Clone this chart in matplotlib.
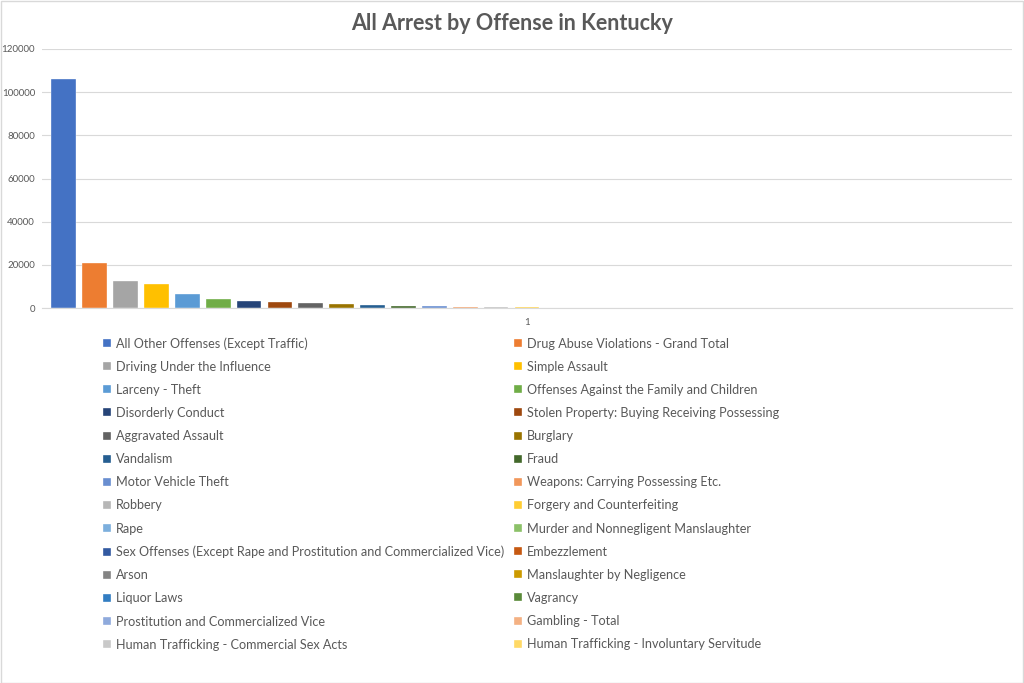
import matplotlib.pyplot as plt
from matplotlib.patches import Rectangle
import numpy as np

plt.rcParams['font.family'] = ['Lato', 'DejaVu Sans']

# offense names in chart order (last three are hidden in the legend, like the reference)
offenses = [
    "All Other Offenses (Except Traffic)",
    "Drug Abuse Violations - Grand Total",
    "Driving Under the Influence",
    "Simple Assault",
    "Larceny - Theft",
    "Offenses Against the Family and Children",
    "Disorderly Conduct",
    "Stolen Property: Buying Receiving Possessing",
    "Aggravated Assault",
    "Burglary",
    "Vandalism",
    "Fraud",
    "Motor Vehicle Theft",
    "Weapons: Carrying Possessing Etc.",
    "Robbery",
    "Forgery and Counterfeiting",
    "Rape",
    "Murder and Nonnegligent Manslaughter",
    "Sex Offenses (Except Rape and Prostitution and Commercialized Vice)",
    "Embezzlement",
    "Arson",
    "Manslaughter by Negligence",
    "Liquor Laws",
    "Vagrancy",
    "Prostitution and Commercialized Vice",
    "Gambling - Total",
    "Human Trafficking - Commercial Sex Acts",
    "Human Trafficking - Involuntary Servitude",
    "Curfew and Loitering Law Violations",
    "Runaways",
    "Suspicion",
]
arrests = [106000, 20800, 12300, 11300, 6500, 4000, 3300, 2700, 2300, 1900,
           1400, 1000, 750, 650, 550, 500, 90, 70, 60, 45,
           35, 20, 15, 10, 8, 5, 2, 1, 0, 0, 0]
n_legend = 28

colors = ["#4472C4", "#ED7D31", "#A5A5A5", "#FFC000", "#5B9BD5", "#70AD47",
          "#264478", "#9E480E", "#636363", "#997300", "#255E91", "#43682B",
          "#698ED0", "#F1975A", "#B7B7B7", "#FFCD33", "#7CAFDD", "#8CC168",
          "#335AA1", "#C65911", "#848484", "#CC9A00", "#327DC2", "#5A8A39",
          "#8FAADC", "#F4B183", "#C9C9C9", "#FFD966", "#9DC3E6", "#A9D18E",
          "#203864"]

fig = plt.figure(figsize=(10.24, 6.83), dpi=100)
ax = fig.add_axes([42 / 1024, 1 - 308 / 683, 970 / 1024, 259 / 683])

n = len(arrests)
slot = 0.987 / n
handles = []
for i, (name, val) in enumerate(zip(offenses, arrests)):
    x = (i - (n - 1) / 2) * slot
    b = ax.bar(x, val, width=slot * 0.8, color=colors[i], edgecolor='white',
               linewidth=0.25, label=name, zorder=3)
    handles.append(b)

ax.set_xlim(-0.5, 0.5)
ax.set_ylim(0, 120000)
ax.set_yticks(np.arange(0, 120001, 20000))
ax.set_xticks([0])
ax.set_xticklabels(["1"])
ax.tick_params(axis='both', length=0, labelsize=7, labelcolor='#595959')
ax.tick_params(axis='y', pad=5)
ax.tick_params(axis='x', pad=7)
ax.grid(axis='y', color='#D9D9D9', linewidth=0.8, zorder=0)
for s in ['top', 'right', 'left']:
    ax.spines[s].set_visible(False)
ax.spines['bottom'].set_color('#D9D9D9')
ax.spines['bottom'].set_zorder(4)

fig.text(0.5, 1 - 23 / 683, "All Arrest by Offense in Kentucky", ha='center',
         va='center', fontsize=15.5, fontweight='bold', color='#595959')

# Excel fills legend rows left-to-right; matplotlib fills columns first
leg_handles = handles[:n_legend]
order = list(range(0, n_legend, 2)) + list(range(1, n_legend, 2))
leg = fig.legend([leg_handles[k] for k in order],
                 [offenses[k] for k in order],
                 loc='upper left', bbox_to_anchor=(103 / 1024, 1 - 337 / 683),
                 ncol=2, frameon=False, fontsize=9.1, handlelength=0.6,
                 handleheight=0.6, handletextpad=0.4, columnspacing=0.8,
                 labelspacing=0.88, borderaxespad=0, borderpad=0)
for t in leg.get_texts():
    t.set_color('#595959')

fig.patches.append(Rectangle((0.5 / 1024, 0.5 / 683), 1 - 1.5 / 1024, 1 - 1.5 / 683,
                             transform=fig.transFigure, fill=False,
                             edgecolor='#D9D9D9', linewidth=1))

fig.savefig('out.png', dpi=100, facecolor='white')
